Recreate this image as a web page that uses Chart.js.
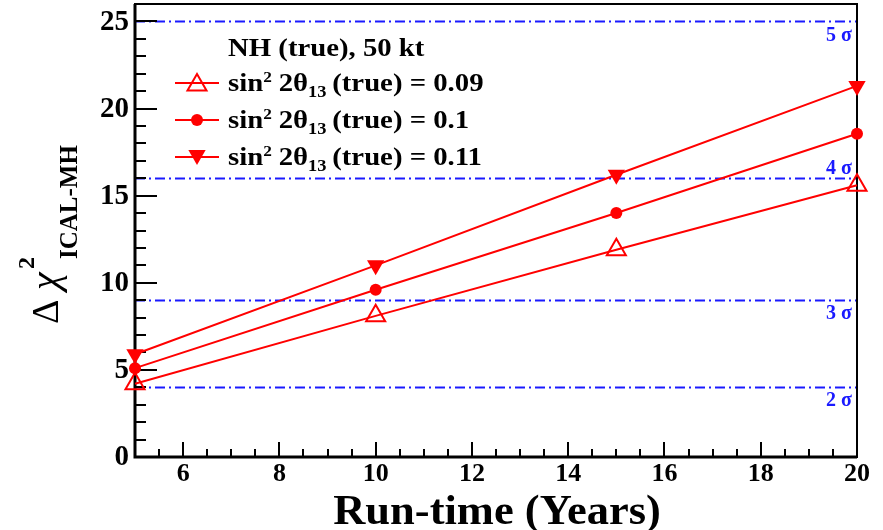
<!DOCTYPE html>
<html>
<head>
<meta charset="utf-8">
<script src="https://cdn.jsdelivr.net/npm/chart.js@4/dist/chart.umd.min.js"></script>
<style>
  html, body { margin: 0; padding: 0; background: #fff; }
  #wrap { width: 883px; height: 530px; position: relative; }
</style>
</head>
<body>
<div id="wrap"><canvas id="chiChart"></canvas></div>
<script>
// Run-time in years and Delta chi^2 (ICAL-MH) for three true values of sin^2 2theta13
const years = [5, 10, 15, 20];
const chiTheta09 = [4.2, 8.1, 11.9, 15.6];
const chiTheta10 = [5.1, 9.6, 14.0, 18.55];
const chiTheta11 = [5.9, 11.0, 16.2, 21.3];
const thetaValues = ['0.09', '0.1', '0.11'];

// significance levels (2..5 sigma)
const sigmaLevels = [4, 9, 16, 25];
const sigmaLabels = ['2 \u03c3', '3 \u03c3', '4 \u03c3', '5 \u03c3'];

const xTickValues = [6, 8, 10, 12, 14, 16, 18, 20];
const yTickValues = [0, 5, 10, 15, 20, 25];

const SERIF = "'Liberation Serif', 'Times New Roman', serif";
const RED = '#ff0000';
const BLUE = '#1a1aff';

// draw a run of text pieces [text, size, raise, extraGap], stretched sideways
function drawRich(ctx, x, y, parts, stretch) {
    ctx.save();
    ctx.translate(x, y);
    ctx.scale(stretch || 1, 1);
    let cx = 0;
    parts.forEach(function(p) {
        ctx.font = 'bold ' + p[1] + 'px ' + SERIF;
        ctx.fillText(p[0], cx, -p[2]);
        cx += ctx.measureText(p[0]).width + (p[3] || 0);
    });
    ctx.restore();
}

function drawMarker(ctx, style, x, y, r) {
    ctx.beginPath();
    if (style === 'circle') {
        ctx.arc(x, y, r, 0, Math.PI * 2);
        ctx.fill();
        return;
    }
    const s = style === 'down' ? -1 : 1;
    ctx.moveTo(x, y - s * r);
    ctx.lineTo(x + r * 0.866, y + s * r / 2);
    ctx.lineTo(x - r * 0.866, y + s * r / 2);
    ctx.closePath();
    if (style === 'open') {
        ctx.stroke();
    } else {
        ctx.fill();
    }
}

const decorPlugin = {
    id: 'decor',
    beforeDatasetsDraw(chart) {
        const ctx = chart.ctx;
        const a = chart.chartArea;
        const xs = chart.scales.x, ys = chart.scales.y;
        ctx.save();

        // sigma reference lines
        ctx.strokeStyle = BLUE;
        ctx.lineWidth = 2;
        ctx.setLineDash([10, 4, 2, 4]);
        sigmaLevels.forEach(function(v) {
            const py = Math.round(ys.getPixelForValue(v)) + 0.5;
            ctx.beginPath();
            ctx.moveTo(a.left, py);
            ctx.lineTo(a.right, py);
            ctx.stroke();
        });
        ctx.setLineDash([]);
        ctx.fillStyle = BLUE;
        ctx.font = 'bold 20px ' + SERIF;
        ctx.textAlign = 'right';
        ctx.textBaseline = 'middle';
        sigmaLabels.forEach(function(lab, i) {
            const py = ys.getPixelForValue(sigmaLevels[i]);
            const off = sigmaLevels[i] === 16 ? -9 : 14;
            ctx.fillText(lab, a.right - 5, py + off);
        });

        // y tick labels
        ctx.fillStyle = '#000';
        ctx.font = 'bold 29px ' + SERIF;
        yTickValues.forEach(function(v) {
            ctx.fillText(String(v), a.left - 6, ys.getPixelForValue(v) + 1);
        });

        // ticks inside the frame
        ctx.strokeStyle = '#000';
        ctx.lineWidth = 2;
        for (let v = 5; v <= 20.001; v += 0.5) {
            const px = Math.round(xs.getPixelForValue(v));
            const len = (v % 2 === 0) ? 15 : 8;
            ctx.beginPath();
            ctx.moveTo(px, a.bottom);
            ctx.lineTo(px, a.bottom - len);
            ctx.stroke();
        }
        for (let v = 0; v <= 26; v += 1) {
            const py = Math.round(ys.getPixelForValue(v));
            const len = (v % 5 === 0) ? 22 : 11;
            ctx.beginPath();
            ctx.moveTo(a.left, py);
            ctx.lineTo(a.left + len, py);
            ctx.stroke();
        }

        // frame
        ctx.lineWidth = 2;
        ctx.strokeRect(a.left, a.top, a.right - a.left, a.bottom - a.top);
        ctx.lineWidth = 3;
        ctx.beginPath();
        ctx.moveTo(a.left, a.top);
        ctx.lineTo(a.left, a.bottom);
        ctx.lineTo(a.right, a.bottom);
        ctx.stroke();
        ctx.restore();
    },
    afterDraw(chart) {
        const ctx = chart.ctx;
        ctx.save();
        ctx.fillStyle = '#000';
        ctx.textAlign = 'left';
        ctx.textBaseline = 'alphabetic';

        // legend
        const stretch = 1.15;
        drawRich(ctx, 228, 56, [['NH (true), 50 kt', 25, 0]], stretch);
        const styles = ['open', 'circle', 'down'];
        const radii = [11, 6, 10];
        const rowY = [83, 120, 157];
        thetaValues.forEach(function(val, i) {
            const y = rowY[i];
            ctx.strokeStyle = RED;
            ctx.fillStyle = RED;
            ctx.lineWidth = 2;
            ctx.beginPath();
            ctx.moveTo(175, y);
            ctx.lineTo(219, y);
            ctx.stroke();
            const my = styles[i] === 'open' ? y + 2 : (styles[i] === 'down' ? y - 2 : y);
            drawMarker(ctx, styles[i], 197, my, radii[i]);
            ctx.fillStyle = '#000';
            drawRich(ctx, 228, y + 8, [
                ['sin', 25, 0, 0], ['2', 15, 9, 6], ['2\u03b8', 25, 0, 0],
                ['13', 16, -6, 5], ['(true) = ' + val, 25, 0]
            ], stretch);
        });

        // x axis title
        ctx.save();
        ctx.translate(497, 524);
        ctx.scale(1.06, 1);
        ctx.font = 'bold 42px ' + SERIF;
        ctx.textAlign = 'center';
        ctx.fillText('Run-time (Years)', 0, 0);
        ctx.restore();

        // y axis title, rotated
        ctx.translate(58, 322);
        ctx.rotate(-Math.PI / 2);
        ctx.textAlign = 'left';
        ctx.font = '38px ' + SERIF;
        ctx.fillText('\u0394', -2, 0);
        ctx.font = 'italic 40px ' + SERIF;
        ctx.fillText('\u03c7', 32, 0);
        ctx.font = 'bold 24px ' + SERIF;
        ctx.fillText('2', 53, -24);
        ctx.font = 'bold 25px ' + SERIF;
        ctx.fillText('ICAL-MH', 63, 19);
        ctx.restore();
    }
};

const ctx = document.getElementById('chiChart').getContext('2d');

function series(values) {
    return years.map(function(x, i) { return { x: x, y: values[i] }; });
}

new Chart(ctx, {
    type: 'line',
    data: {
        datasets: [{
            label: 'sin2 2theta13 (true) = ' + thetaValues[0],
            data: series(chiTheta09),
            borderColor: RED,
            borderWidth: 2,
            pointStyle: 'triangle',
            pointRadius: 11,
            pointBorderWidth: 2,
            pointBorderColor: RED,
            pointBackgroundColor: 'rgba(255,255,255,0)',
            clip: false
        }, {
            label: 'sin2 2theta13 (true) = ' + thetaValues[1],
            data: series(chiTheta10),
            borderColor: RED,
            borderWidth: 2,
            pointStyle: 'circle',
            pointRadius: 6,
            pointBorderWidth: 0,
            pointBackgroundColor: RED,
            clip: false
        }, {
            label: 'sin2 2theta13 (true) = ' + thetaValues[2],
            data: series(chiTheta11),
            borderColor: RED,
            borderWidth: 2,
            pointStyle: 'triangle',
            pointRotation: 180,
            pointRadius: 10,
            pointBorderWidth: 0,
            pointBackgroundColor: RED,
            clip: false
        }]
    },
    options: {
        responsive: true,
        maintainAspectRatio: false,
        animation: false,
        layout: { autoPadding: false, padding: { top: 4, right: 26, left: 0, bottom: 0 } },
        plugins: {
            legend: { display: false },
            tooltip: { enabled: false }
        },
        scales: {
            x: {
                type: 'linear',
                min: 5,
                max: 20,
                grid: { display: false, drawTicks: false },
                border: { display: false },
                afterBuildTicks: function(s) {
                    s.ticks = xTickValues.map(function(v) { return { value: v }; });
                },
                afterFit: function(s) {
                    s.height = 73;
                    s.paddingLeft = 0;
                    s.paddingRight = 0;
                },
                ticks: {
                    autoSkip: false,
                    maxRotation: 0,
                    padding: 2,
                    color: '#000',
                    font: { family: SERIF, size: 26, weight: 'bold' }
                }
            },
            y: {
                min: 0,
                max: 26,
                grid: { display: false, drawTicks: false },
                border: { display: false },
                afterFit: function(s) { s.width = 135; },
                ticks: { display: false }
            }
        }
    },
    plugins: [decorPlugin]
});
</script>
</body>
</html>
